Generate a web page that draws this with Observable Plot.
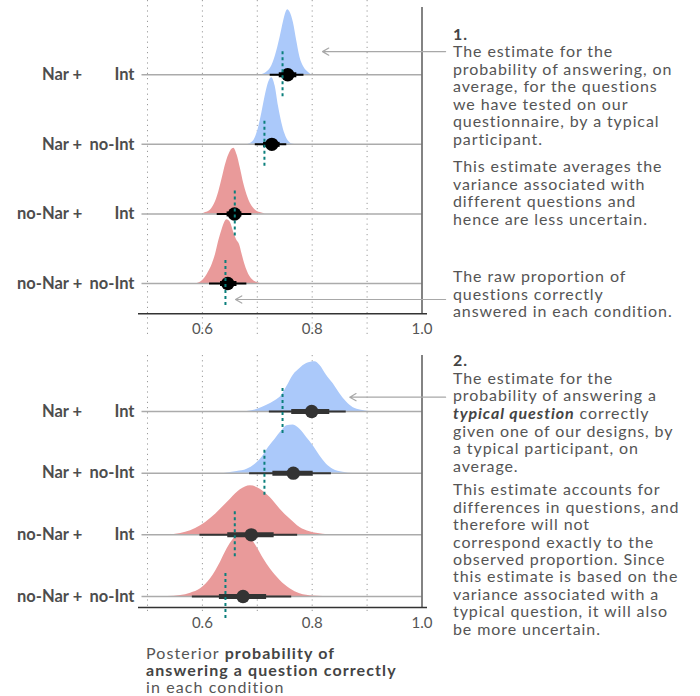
<!DOCTYPE html>
<html><head><meta charset="utf-8">
<script src="https://cdn.jsdelivr.net/npm/d3@7"></script>
<script src="https://cdn.jsdelivr.net/npm/@observablehq/plot@0.6"></script>
<style>
body{margin:0;background:#fff;}
#wrap{position:relative;width:700px;height:696px;font-family:Lato,sans-serif;color:#555;overflow:hidden;}
.pan{position:absolute;left:0;}
.note{position:absolute;left:453px;font-size:16px;line-height:17.5px;letter-spacing:0.9px;white-space:nowrap;color:#555;}
.note b{color:#444;}
.xtitle{position:absolute;left:146px;top:643.6px;font-size:16px;line-height:17.4px;letter-spacing:1.1px;white-space:nowrap;color:#555;}
.xtitle b{color:#444;}
</style></head><body>
<div id="wrap">
  <div id="p1" class="pan" style="top:0"></div>
  <div id="p2" class="pan" style="top:340px"></div>
  <div class="note" style="top:24.6px"><b>1.</b><br>The estimate for the<br>probability of answering, on<br>average, for the questions<br>we have tested on our<br>questionnaire, by a typical<br>participant.</div>
  <div class="note" style="top:157px">This estimate averages the<br>variance associated with<br>different questions and<br>hence are less uncertain.</div>
  <div class="note" style="top:267.3px">The raw proportion of<br>questions correctly<br>answered in each condition.</div>
  <div class="note" style="top:351.2px;line-height:17.6px"><b>2.</b><br>The estimate for the<br>probability of answering a<br><b><i>typical question</i></b> correctly<br>given one of our designs, by<br>a typical participant, on<br>average.</div>
  <div class="note" style="top:480.3px;line-height:17.4px">This estimate accounts for<br>differences in questions, and<br>therefore will not<br>correspond exactly to the<br>observed proportion. Since<br>this estimate is based on the<br>variance associated with a<br>typical question, it will also<br>be more uncertain.</div>
  <div class="xtitle">Posterior <b>probability of</b><br><b>answering a question correctly</b><br>in each condition</div>
</div>
<script>
// ---- categories ----
const conditions = ["Nar + Int", "Nar + no-Int", "no-Nar + Int", "no-Nar + no-Int"];
const narLabels = ["Nar +", "Nar +", "no-Nar +", "no-Nar +"];
const intLabels = ["Int", "no-Int", "Int", "no-Int"];
const narGroup = ["Nar", "Nar", "no-Nar", "no-Nar"];
const observed = [0.746, 0.713, 0.659, 0.642];
const ticksX = [0.6, 0.8, 1.0];
const gridX = [0.5, 0.6, 0.7, 0.8, 0.9];

// ---- panel 1: average over tested questions ----
const avgPoint   = [0.7555, 0.7265, 0.6585, 0.6462];
const avgThickLo = [0.740, 0.7114, 0.645, 0.633];
const avgThickHi = [0.772, 0.7416, 0.672, 0.663];
const avgThinLo  = [0.7235, 0.6963, 0.627, 0.613];
const avgThinHi  = [0.785, 0.7537, 0.690, 0.681];
const avgDensX = [
  [0.708,0.7175,0.7265,0.7356,0.7416,0.7475,0.7524,0.7555,0.7597,0.7656,0.7718,0.7777,0.785,0.7928,0.799],
  [0.678,0.6873,0.6963,0.7023,0.7084,0.7144,0.7204,0.7265,0.7325,0.7385,0.7446,0.7506,0.7566,0.7627,0.768],
  [0.6,0.6059,0.6149,0.624,0.6299,0.6361,0.642,0.648,0.6571,0.6632,0.6692,0.6752,0.6813,0.6873,0.6963,0.7054,0.7144],
  [0.5908,0.5999,0.609,0.618,0.624,0.6299,0.6361,0.642,0.6451,0.6511,0.6571,0.6632,0.6674,0.6723,0.6782,0.6842,0.6904,0.6994,0.7054]
];
const avgDensY = [
  [0,0.039,0.129,0.345,0.54,0.756,0.9,0.934,0.9,0.756,0.489,0.253,0.109,0.037,0],
  [0,0.014,0.096,0.24,0.455,0.694,0.886,0.958,0.838,0.55,0.312,0.144,0.047,0.007,0],
  [0,0.019,0.057,0.177,0.32,0.513,0.704,0.848,0.944,0.848,0.657,0.441,0.273,0.154,0.057,0.019,0],
  [0,0.039,0.134,0.277,0.421,0.613,0.78,0.9,0.915,0.876,0.733,0.613,0.565,0.421,0.254,0.134,0.062,0.014,0]
];

// ---- panel 2: typical question ----
const typPoint   = [0.799, 0.7656, 0.689, 0.674];
const typThickLo = [0.7627, 0.7284, 0.6462, 0.631];
const typThickHi = [0.832, 0.8018, 0.7307, 0.717];
const typThinLo  = [0.722, 0.686, 0.5955, 0.5817];
const typThinHi  = [0.862, 0.835, 0.7735, 0.7627];
const typDensX = [
  [0.6813,0.6994,0.7175,0.7325,0.7446,0.7537,0.7656,0.7777,0.7899,0.8049,0.8139,0.8261,0.838,0.8501,0.8622,0.8742,0.8894,0.9044],
  [0.639,0.6632,0.6813,0.6963,0.7084,0.7204,0.7325,0.7446,0.7537,0.7656,0.7777,0.7899,0.8018,0.8139,0.8261,0.838,0.8561,0.8742],
  [0.5363,0.5604,0.5785,0.5968,0.6149,0.633,0.6511,0.6692,0.6873,0.7054,0.7235,0.7416,0.7597,0.7777,0.7958,0.8199,0.838],
  [0.5363,0.5604,0.5785,0.5968,0.6149,0.633,0.6451,0.6571,0.6692,0.6752,0.6873,0.6994,0.7114,0.7235,0.7416,0.7597,0.7777,0.8018,0.8199]
];
const typDensY = [
  [0,0.032,0.102,0.173,0.264,0.4,0.589,0.697,0.778,0.806,0.751,0.589,0.454,0.292,0.157,0.065,0.021,0],
  [0,0.028,0.065,0.146,0.255,0.417,0.551,0.686,0.767,0.783,0.713,0.579,0.443,0.281,0.146,0.065,0.016,0],
  [0,0.021,0.065,0.146,0.264,0.417,0.579,0.73,0.795,0.741,0.605,0.417,0.255,0.118,0.049,0.011,0],
  [0,0.016,0.054,0.125,0.287,0.556,0.773,0.936,1.033,1.043,0.962,0.8,0.611,0.449,0.259,0.125,0.044,0.008,0]
];

// ---- annotation arrows (x from text to target, y in row units) ----
const avgArrowFrom = [1.043, 1.043];
const avgArrowTo   = [0.8188, 0.6603];
const avgArrowY    = [3.333, -0.23];
const typArrowFrom = [1.043];
const typArrowTo   = [0.8685];
const typArrowY    = [3.232];

function panel(p) {
  const rows = conditions.map((c, i) => ({
    cond: c, row: 3 - i, nar: narLabels[i], int: intLabels[i], group: narGroup[i],
    obs: observed[i], point: p.point[i], thickLo: p.thickLo[i], thickHi: p.thickHi[i],
    thinLo: p.thinLo[i], thinHi: p.thinHi[i]
  }));
  const dens = conditions.flatMap((c, i) => p.densX[i].map((x, j) => ({
    cond: c, row: 3 - i, group: narGroup[i], x, d: p.densY[i][j]
  })));
  const arrows = p.arrowFrom.map((f, i) => ({from: f, to: p.arrowTo[i], y: p.arrowY[i]}));
  return Plot.plot({
    width: 450, height: p.height,
    marginLeft: 141.5, marginRight: 28.5, marginTop: p.marginTop, marginBottom: p.marginBottom,
    x: {domain: [0.49, 1.0]},
    y: {domain: p.yDomain, axis: null},
    color: {domain: ["Nar", "no-Nar"], range: ["#abc9fa", "#e99a9a"]},
    style: {fontFamily: "Lato, sans-serif", fontSize: "15px", color: "#555", background: "white", overflow: "visible"},
    marks: [
      Plot.ruleX(gridX, {stroke: "#9a9a9a", strokeDasharray: "1.2,4", strokeWidth: 1, insetTop: p.gridTop, insetBottom: p.gridBottom}),
      Plot.areaY(dens, {x: "x", y1: "row", y2: d => d.row + d.d, z: "cond", fill: "group", curve: "monotone-x"}),
      Plot.ruleY(rows, {y: "row", stroke: "#ababab", strokeWidth: 1.5}),
      Plot.ruleX([1.0], {stroke: "#5a5a5a", strokeWidth: 1.5}),
      Plot.ruleY([p.yDomain[0]], {stroke: "#333", strokeWidth: 1.5, insetLeft: -3.5, insetRight: -5.5}),
      Plot.ruleY(rows, {y: "row", x1: "thinLo", x2: "thinHi", stroke: p.pointColor, strokeWidth: 2}),
      Plot.ruleY(rows, {y: "row", x1: "thickLo", x2: "thickHi", stroke: p.pointColor, strokeWidth: 5}),
      Plot.dot(rows, {x: "point", y: "row", r: 6.7, fill: p.pointColor}),
      Plot.ruleX(rows, {x: "obs", y1: "row", y2: "row", insetTop: -p.dashHalf, insetBottom: -p.dashHalf, stroke: "#0b7f7c", strokeWidth: 2, strokeDasharray: "3,3"}),
      Plot.arrow(arrows, {x1: "from", x2: "to", y1: "y", y2: "y", stroke: "#a8a8a8", strokeWidth: 1.2, headLength: 9}),
      Plot.text(rows, {y: "row", text: "nar", frameAnchor: "left", dx: -59.8, textAnchor: "end", fontWeight: "bold", fontSize: 16.5, fill: "#4d4d4d"}),
      Plot.text(rows, {y: "row", text: "int", frameAnchor: "left", dx: -7.5, textAnchor: "end", fontWeight: "bold", fontSize: 16.5, fill: "#4d4d4d"}),
      Plot.axisX({ticks: ticksX, tickFormat: d3.format(".1f"), tickSize: 0, tickPadding: 10, fontSize: 15, label: null})
    ]
  });
}

document.getElementById("p1").appendChild(panel({
  point: avgPoint, thickLo: avgThickLo, thickHi: avgThickHi, thinLo: avgThinLo, thinHi: avgThinHi,
  densX: avgDensX, densY: avgDensY,
  arrowFrom: avgArrowFrom, arrowTo: avgArrowTo, arrowY: avgArrowY,
  height: 340, marginTop: 7, marginBottom: 26.7, yDomain: [-0.4355, 3.967],
  pointColor: "#000", gridTop: -7, gridBottom: -22, dashHalf: 23
}));
document.getElementById("p2").appendChild(panel({
  point: typPoint, thickLo: typThickLo, thickHi: typThickHi, thinLo: typThinLo, thinHi: typThinHi,
  densX: typDensX, densY: typDensY,
  arrowFrom: typArrowFrom, arrowTo: typArrowTo, arrowY: typArrowY,
  height: 300, marginTop: 15, marginBottom: 33, yDomain: [-0.178, 3.908],
  pointColor: "#333", gridTop: 0, gridBottom: -8, dashHalf: 23
}));
</script>
</body></html>
